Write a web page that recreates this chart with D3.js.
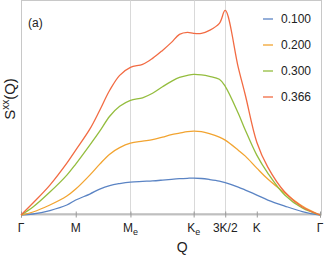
<!DOCTYPE html>
<html>
<head>
<meta charset="utf-8">
<script src="https://cdn.jsdelivr.net/npm/d3@7"></script>
<style>
  body { margin: 0; background: #fff; }
  text { font-family: "Liberation Sans", Arial, sans-serif; fill: #222; }
</style>
</head>
<body>
<script>
// path positions along Γ-M-Me-Ke-3K/2-K-Γ (units of |ΓM|)
const qPoints = [0, 0.219, 0.528, 0.838, 1.0, 1.257, 1.439, 1.621, 1.803, 2.0, 2.222, 2.404, 2.586, 2.75,
    2.896, 3.042, 3.155, 3.297, 3.443, 3.625, 3.732, 3.97, 4.10, 4.309, 4.51, 4.82, 5.14, 5.464];

const s100 = [0, 0.01, 0.045, 0.10, 0.15, 0.21, 0.26, 0.295, 0.315, 0.33, 0.337, 0.342, 0.35, 0.358,
    0.364, 0.368, 0.37, 0.366, 0.356, 0.34, 0.325, 0.28, 0.25, 0.20, 0.15, 0.09, 0.035, 0];
const s200 = [0, 0.03, 0.10, 0.19, 0.26, 0.40, 0.51, 0.61, 0.675, 0.72, 0.74, 0.755, 0.78, 0.805,
    0.82, 0.835, 0.84, 0.835, 0.815, 0.78, 0.75, 0.65, 0.59, 0.47, 0.36, 0.22, 0.09, 0];
const s300 = [0, 0.08, 0.23, 0.40, 0.51, 0.70, 0.84, 0.99, 1.09, 1.15, 1.175, 1.22, 1.285, 1.34,
    1.38, 1.40, 1.41, 1.405, 1.39, 1.36, 1.29, 1.02, 0.85, 0.60, 0.42, 0.20, 0.07, 0];
const s366 = [0, 0.12, 0.30, 0.52, 0.65, 0.86, 1.05, 1.25, 1.40, 1.48, 1.51, 1.57, 1.65, 1.73,
    1.81, 1.83, 1.82, 1.82, 1.85, 1.92, 2.05, 1.48, 1.20, 0.73, 0.48, 0.23, 0.08, 0];

const seriesNames = ['0.100', '0.200', '0.300', '0.366'];
const colors = ['#5b84c4', '#f2a431', '#94bd3e', '#f26b43'];

const tickPos = [0, 1, 2, 3.155, 3.732, 4.309, 5.464];
const tickNames = [['Γ'], ['M'], ['M', 'e'], ['K', 'e'], ['3K/2'], ['K'], ['Γ']];
const gridTicks = [2, 3.155, 3.732];

const width = 327, height = 262;
const margin = { top: 0.5, right: 6, bottom: 47, left: 21 };

const svg = d3.select('body').append('svg')
    .attr('width', width)
    .attr('height', height);

const x = d3.scaleLinear()
    .domain([0, 5.464])
    .range([margin.left, width - margin.right - 1]);

const y = d3.scaleLinear()
    .domain([0, 2.15])
    .range([height - margin.bottom, margin.top]);

// frame
svg.append('rect')
    .attr('x', margin.left + 0.5)
    .attr('y', margin.top)
    .attr('width', width - margin.right - margin.left)
    .attr('height', y(0) - margin.top)
    .attr('fill', 'none')
    .attr('stroke', '#c8c8c8');

// vertical grid lines
svg.append('g')
    .selectAll('line')
    .data(gridTicks)
    .join('line')
    .attr('x1', d => Math.round(x(d)) + 0.5)
    .attr('x2', d => Math.round(x(d)) + 0.5)
    .attr('y1', margin.top)
    .attr('y2', y(0))
    .attr('stroke', '#d9d9d9');

// x axis
const xAxis = d3.axisBottom(x)
    .tickValues(tickPos)
    .tickSize(4)
    .tickFormat('');
const gx = svg.append('g')
    .attr('transform', `translate(0, ${Math.round(y(0)) - 1.5})`)
    .call(xAxis);
gx.select('.domain').attr('stroke', '#999');
gx.selectAll('.tick line').attr('stroke', '#999').attr('y1', -2);

const labels = svg.append('g')
    .selectAll('text')
    .data(tickPos)
    .join('text')
    .attr('x', d => x(d))
    .attr('y', 232)
    .attr('text-anchor', 'middle')
    .attr('font-size', 12);
labels.each(function (d, i) {
    const t = d3.select(this);
    const parts = tickNames[i];
    t.append('tspan').text(parts[0]);
    if (parts[1]) {
        t.append('tspan').attr('dy', 3).attr('font-size', 9).text(parts[1]);
    }
});

// axis titles
svg.append('text')
    .attr('x', x(3.0) - 3)
    .attr('y', 252)
    .attr('text-anchor', 'middle')
    .attr('font-size', 14)
    .text('Q');

const yt = svg.append('text')
    .attr('transform', `translate(15, 99) rotate(-90)`)
    .attr('text-anchor', 'middle')
    .attr('font-size', 15);
yt.append('tspan').text('S');
yt.append('tspan').attr('dy', -6).attr('font-size', 10).text('xx');
yt.append('tspan').attr('dy', 6).text('(Q)');

svg.append('text')
    .attr('x', 28)
    .attr('y', 27)
    .attr('font-size', 12)
    .text('(a)');

// curves
const allSeries = [s100, s200, s300, s366];
const line = d3.line()
    .x((d, i) => x(qPoints[i]))
    .y(d => y(d))
    .curve(d3.curveCatmullRom.alpha(0.5));

svg.append('g')
    .selectAll('path')
    .data(allSeries)
    .join('path')
    .attr('d', d => line(d))
    .attr('fill', 'none')
    .attr('stroke', (d, i) => colors[i])
    .attr('stroke-width', 1.3);

// legend
const legend = svg.append('g')
    .selectAll('g')
    .data(seriesNames)
    .join('g')
    .attr('transform', (d, i) => `translate(263, ${19 + i * 26})`);
legend.append('line')
    .attr('x1', 0).attr('x2', 10)
    .attr('stroke', (d, i) => colors[i])
    .attr('stroke-width', 1.3);
legend.append('text')
    .attr('x', 18)
    .attr('dy', '0.35em')
    .attr('font-size', 12)
    .text(d => d);
</script>
</body>
</html>
